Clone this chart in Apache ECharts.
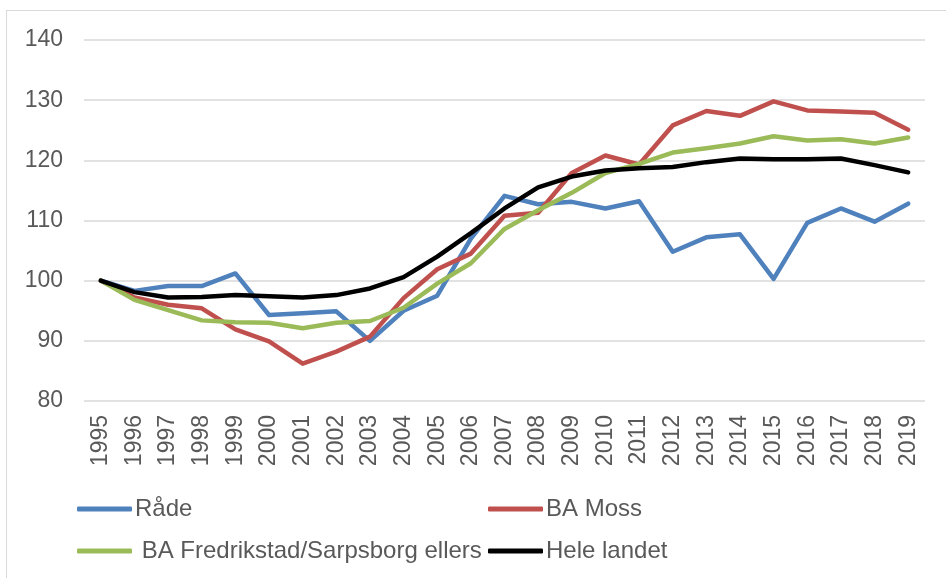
<!DOCTYPE html>
<html>
<head>
<meta charset="utf-8">
<script src="https://cdn.jsdelivr.net/npm/echarts@6/dist/echarts.min.js"></script>
<style>
  html, body { margin: 0; padding: 0; background: #fff; overflow: hidden; }
  #chart { width: 946px; height: 578px; }
  #frame { position: absolute; left: 6px; top: 10px; width: 1200px; height: 1200px; border: 1px solid #d9d9d9; pointer-events: none; }
</style>
</head>
<body>
<div id="chart"></div>
<div id="frame"></div>
<script>
const years = ['1995','1996','1997','1998','1999','2000','2001','2002','2003','2004','2005','2006',
  '2007','2008','2009','2010','2011','2012','2013','2014','2015','2016','2017','2018','2019'];

const rade = [100, 98.3, 99.1, 99.1, 101.2, 94.3, 94.6, 94.9, 90.0, 95.0, 97.5, 107.0,
  114.1, 112.7, 113.1, 112.0, 113.2, 104.8, 107.2, 107.7, 100.3, 109.6, 112.0, 109.8, 112.8];
const moss = [100, 97.2, 96.0, 95.4, 91.9, 89.9, 86.2, 88.2, 90.7, 97.1, 101.9, 104.5,
  110.8, 111.3, 117.9, 120.8, 119.3, 125.8, 128.2, 127.4, 129.8, 128.3, 128.1, 127.9, 125.1];
const fredrikstad = [100, 96.8, 95.1, 93.4, 93.1, 93.0, 92.1, 93.0, 93.3, 95.5, 99.5, 102.9,
  108.6, 111.7, 114.6, 117.9, 119.4, 121.3, 122.0, 122.8, 124.0, 123.3, 123.5, 122.8, 123.8];
const heleLandet = [100, 98.1, 97.2, 97.3, 97.6, 97.4, 97.2, 97.6, 98.7, 100.6, 104.0, 107.9,
  112.0, 115.5, 117.3, 118.3, 118.7, 118.9, 119.7, 120.3, 120.2, 120.2, 120.3, 119.2, 118.0];

const FONT = 'Liberation Sans, Arial, sans-serif';
const TEXT = '#595959';

const chart = echarts.init(document.getElementById('chart'));

const mkLine = (name, data, color) => ({
  name: name,
  type: 'line',
  data: data,
  symbol: 'none',
  lineStyle: { color: color, width: 4.5, cap: 'round', join: 'round' },
  itemStyle: { color: color },
  z: 2
});

const mkLegend = (name, left, top, fmt) => ({
  data: [name],
  left: left,
  top: top,
  padding: 0,
  icon: 'roundRect',
  itemWidth: 55,
  itemHeight: 5,
  formatter: fmt || '{name}',
  textStyle: { color: TEXT, fontSize: 24, fontFamily: FONT, lineHeight: 26, padding: [0, 0, 0, -2] }
});

chart.setOption({
  animation: false,
  backgroundColor: '#fff',
  grid: { left: 84, top: 40, width: 841, height: 361 },
  legend: [
    mkLegend('Råde', 77, 496),
    mkLegend('BA Moss', 488, 496),
    mkLegend('BA Fredrikstad/Sarpsborg ellers', 77, 538, ' {name}'),
    mkLegend('Hele landet', 488, 538)
  ],
  xAxis: {
    type: 'category',
    data: years,
    boundaryGap: true,
    axisLine: { show: false },
    axisTick: { show: false },
    axisLabel: { rotate: 90, margin: 14, color: TEXT, fontSize: 23, fontFamily: FONT, interval: 0 }
  },
  yAxis: {
    type: 'value',
    min: 80,
    max: 140,
    interval: 10,
    axisLine: { show: false },
    axisTick: { show: false },
    axisLabel: { margin: 21, color: TEXT, fontSize: 23, fontFamily: FONT },
    splitLine: { lineStyle: { color: '#d9d9d9', width: 1.5 } }
  },
  series: [
    mkLine('Råde', rade, '#4f81bd'),
    mkLine('BA Moss', moss, '#c0504d'),
    mkLine('BA Fredrikstad/Sarpsborg ellers', fredrikstad, '#9bbb59'),
    mkLine('Hele landet', heleLandet, '#000000')
  ]
});
</script>
</body>
</html>
